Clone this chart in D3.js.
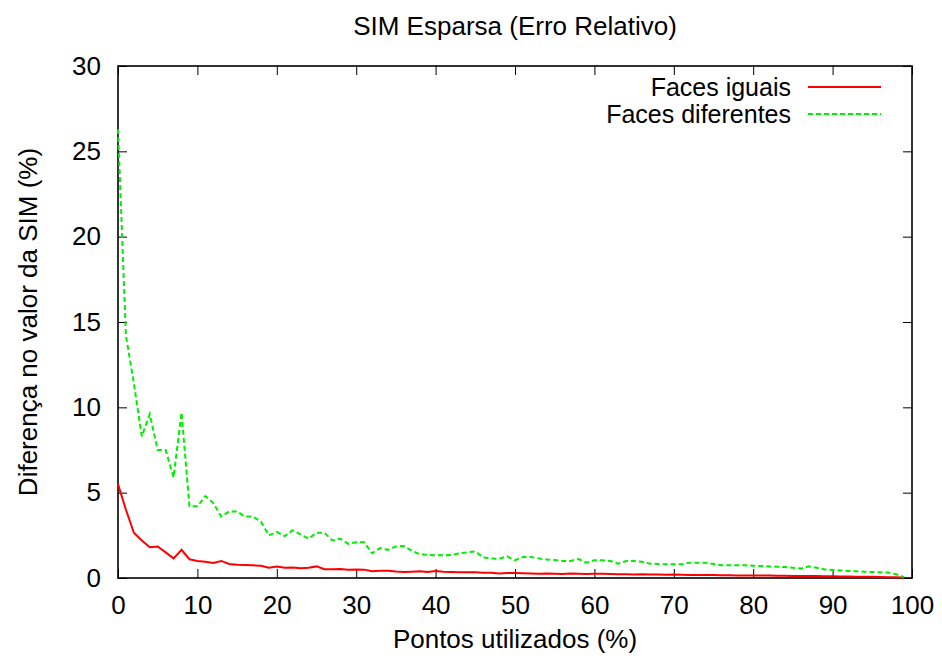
<!DOCTYPE html>
<html>
<head>
<meta charset="utf-8">
<script src="https://cdn.jsdelivr.net/npm/d3@7"></script>
<style>
  body { margin: 0; background: #fff; }
  text { font-family: "Liberation Sans", Arial, sans-serif; fill: #000; }
</style>
</head>
<body>
<div id="chart"></div>
<script>
// percentage of points used, 0..99
var pontos = d3.range(0, 100);

var facesIguais = [
  5.5, 4.0, 2.65, 2.2, 1.8, 1.85, 1.5, 1.15, 1.65, 1.1,
  1.0, 0.95, 0.88, 1.0, 0.82, 0.78, 0.76, 0.74, 0.72, 0.6,
  0.68, 0.6, 0.62, 0.57, 0.6, 0.68, 0.52, 0.52, 0.53, 0.49,
  0.5, 0.49, 0.39, 0.42, 0.43, 0.38, 0.35, 0.37, 0.39, 0.35,
  0.41, 0.36, 0.35, 0.34, 0.33, 0.33, 0.31, 0.31, 0.27, 0.29,
  0.29, 0.28, 0.27, 0.25, 0.27, 0.25, 0.24, 0.26, 0.25, 0.23,
  0.25, 0.25, 0.23, 0.22, 0.22, 0.21, 0.22, 0.2, 0.21, 0.19,
  0.2, 0.19, 0.18, 0.18, 0.17, 0.17, 0.16, 0.16, 0.15, 0.15,
  0.15, 0.14, 0.14, 0.13, 0.13, 0.12, 0.12, 0.12, 0.11, 0.1,
  0.1, 0.09, 0.09, 0.08, 0.08, 0.07, 0.06, 0.05, 0.04, 0.02
];

var facesDiferentes = [
  26.3, 14.2, 11.4, 8.3, 9.6, 7.5, 7.5, 5.9, 9.7, 4.2,
  4.2, 4.8, 4.4, 3.6, 3.9, 3.9, 3.6, 3.6, 3.3, 2.5,
  2.7, 2.45, 2.8, 2.55, 2.3, 2.65, 2.65, 2.2, 2.3, 2.0,
  2.1, 2.1, 1.45, 1.75, 1.65, 1.85, 1.87, 1.6, 1.4, 1.35,
  1.33, 1.33, 1.35, 1.45, 1.5, 1.56, 1.2, 1.15, 1.12, 1.27,
  1.04, 1.23, 1.23, 1.15, 1.08, 1.05, 1.0, 1.0, 1.11, 0.9,
  1.04, 1.04, 1.0, 0.84, 1.0, 1.0, 0.95, 0.84, 0.82, 0.8,
  0.8, 0.8, 0.9, 0.9, 0.9, 0.82, 0.75, 0.74, 0.74, 0.74,
  0.72, 0.7, 0.68, 0.66, 0.64, 0.6, 0.55, 0.68, 0.6, 0.5,
  0.47, 0.44, 0.41, 0.39, 0.37, 0.35, 0.33, 0.32, 0.22, 0.05
];

var xTicks = [0, 10, 20, 30, 40, 50, 60, 70, 80, 90, 100];
var yTicks = [0, 5, 10, 15, 20, 25, 30];

var series = [
  { name: "Faces iguais", values: facesIguais, color: "#ff0000", dash: null },
  { name: "Faces diferentes", values: facesDiferentes, color: "#00ee00", dash: "5,3" }
];

var W = 942, H = 659;
var margin = {top: 66, right: 30, bottom: 81, left: 118};
var width = W - margin.left - margin.right,
    height = H - margin.top - margin.bottom;
var fontSize = "26px";

var svg = d3.select("#chart")
  .append("svg")
    .attr("width", W)
    .attr("height", H);

var g = svg.append("g")
  .attr("transform", "translate(" + margin.left + "," + margin.top + ")");

var x = d3.scaleLinear().domain([0, 100]).range([0, width]);
var y = d3.scaleLinear().domain([0, 30]).range([height, 0]);

// inner ticks on all four sides (gnuplot style)
function tickStyle(sel) {
  sel.select(".domain").remove();
  sel.selectAll(".tick line").attr("stroke", "#000").attr("stroke-width", 1);
  sel.selectAll(".tick text")
    .style("font-family", '"Liberation Sans", Arial, sans-serif')
    .style("font-size", fontSize)
    .attr("fill", "#000");
}

g.append("g")
  .attr("transform", "translate(0," + height + ")")
  .call(d3.axisBottom(x).tickValues(xTicks).tickSize(-9).tickPadding(18))
  .call(tickStyle);

g.append("g")
  .call(d3.axisTop(x).tickValues(xTicks).tickSize(-9).tickFormat(""))
  .call(tickStyle);

g.append("g")
  .call(d3.axisLeft(y).tickValues(yTicks).tickSize(-9).tickPadding(17))
  .call(tickStyle);

g.append("g")
  .attr("transform", "translate(" + width + ",0)")
  .call(d3.axisRight(y).tickValues(yTicks).tickSize(-9).tickFormat(""))
  .call(tickStyle);

// frame
g.append("rect")
  .attr("width", width)
  .attr("height", height)
  .attr("fill", "none")
  .attr("stroke", "#000")
  .attr("stroke-width", 1.6);

var line = d3.line()
  .x(function(d, i) { return x(pontos[i]); })
  .y(function(d) { return y(d); });

series.forEach(function(s) {
  g.append("path")
    .datum(s.values)
    .attr("fill", "none")
    .attr("stroke", s.color)
    .attr("stroke-width", 2)
    .attr("stroke-dasharray", s.dash)
    .attr("d", line);
});

// legend
var legend = g.append("g");
series.forEach(function(s, i) {
  var ly = 21 + i * 27;
  legend.append("text")
    .attr("x", 673)
    .attr("y", ly)
    .attr("dy", "0.35em")
    .attr("text-anchor", "end")
    .style("font-size", "25px")
    .text(s.name);
  legend.append("line")
    .attr("x1", 690)
    .attr("x2", 763)
    .attr("y1", ly)
    .attr("y2", ly)
    .attr("stroke", s.color)
    .attr("stroke-width", 2)
    .attr("stroke-dasharray", s.dash);
});

// titles
svg.append("text")
  .attr("x", 515)
  .attr("y", 35)
  .attr("text-anchor", "middle")
  .style("font-size", fontSize)
  .text("SIM Esparsa (Erro Relativo)");

svg.append("text")
  .attr("x", 515)
  .attr("y", 648)
  .attr("text-anchor", "middle")
  .style("font-size", fontSize)
  .text("Pontos utilizados (%)");

svg.append("text")
  .attr("transform", "translate(37," + (margin.top + height / 2) + ") rotate(-90)")
  .attr("text-anchor", "middle")
  .style("font-size", fontSize)
  .text("Diferença no valor da SIM (%)");
</script>
</body>
</html>
